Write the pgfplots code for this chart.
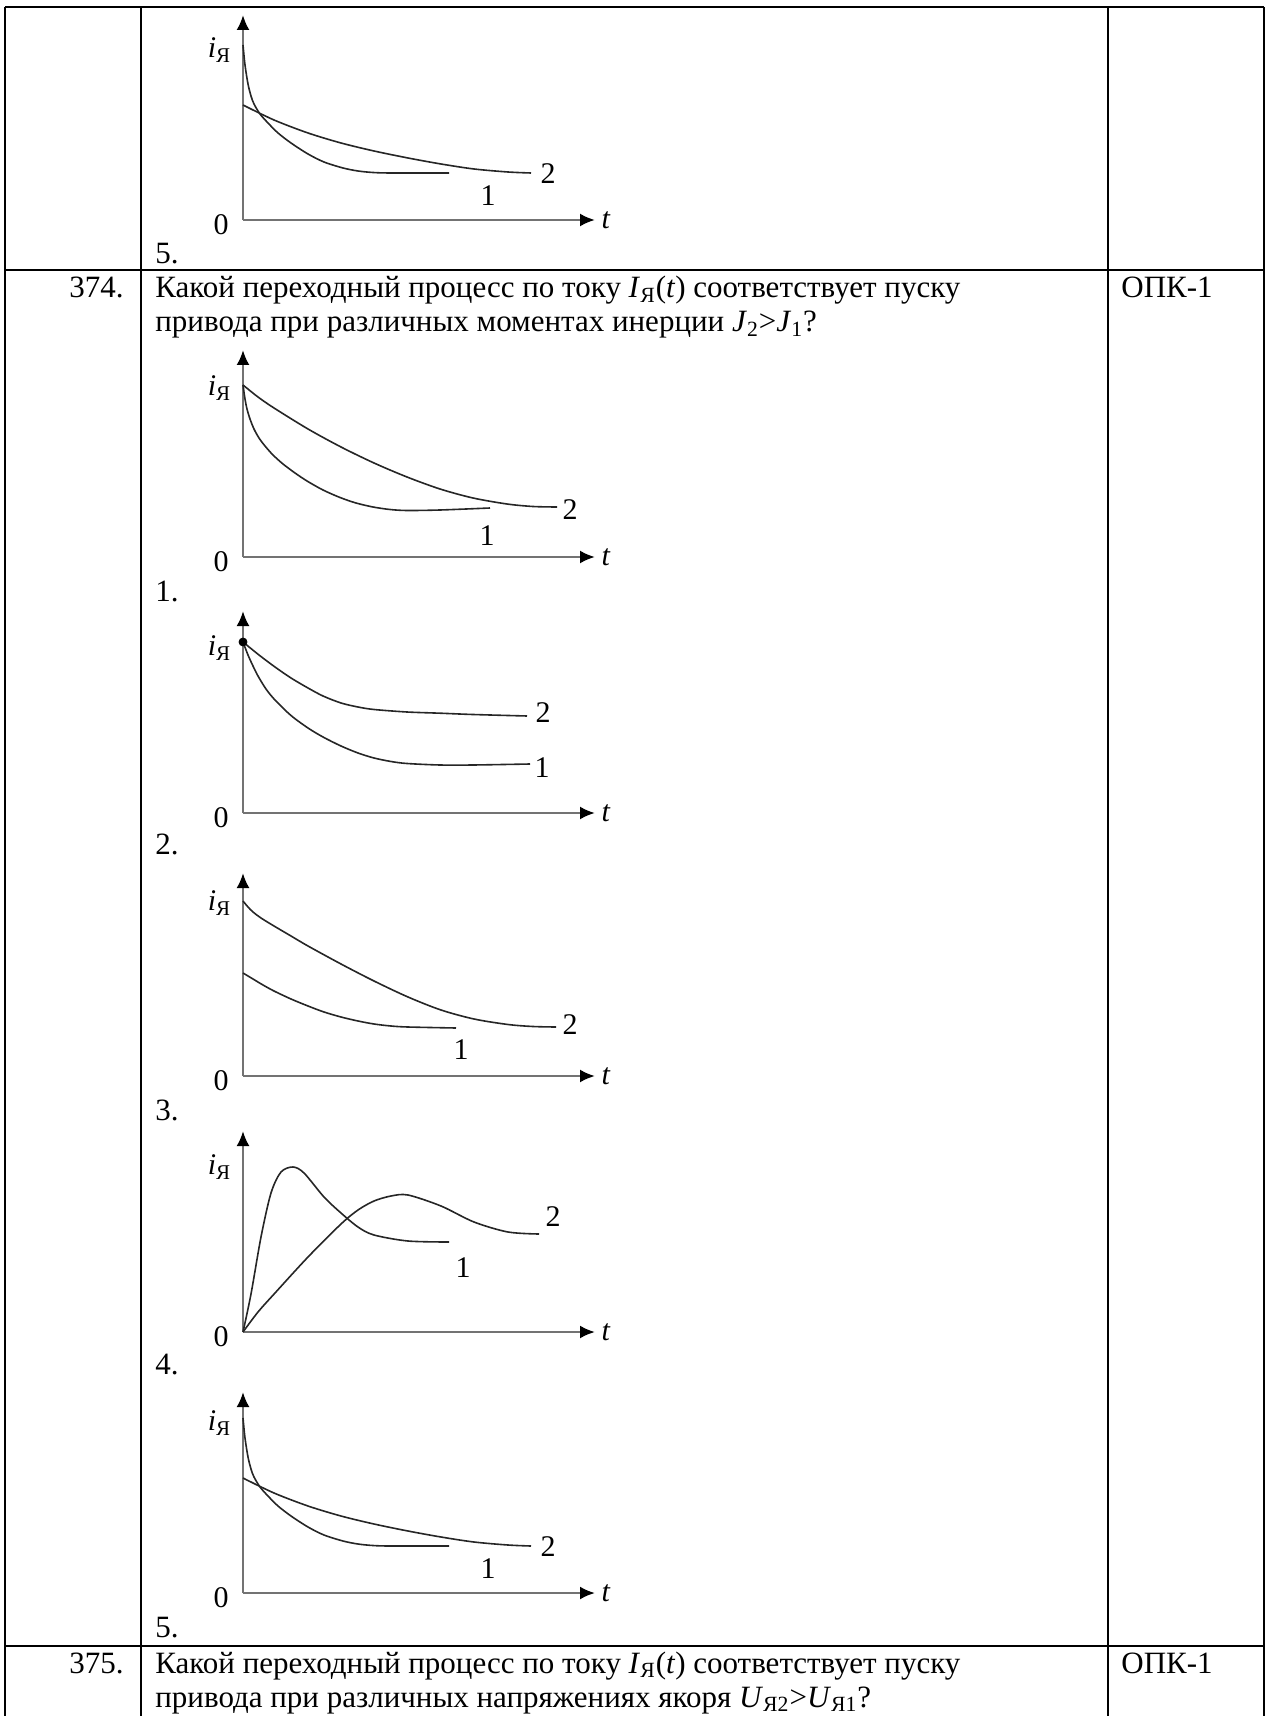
\documentclass[border=0pt]{standalone}
\usepackage{fontspec}
\setmainfont{Liberation Serif}
\usepackage{pgfplots}
\pgfplotsset{compat=1.18}
\usetikzlibrary{arrows.meta}
\pgfplotsset{
  mini/.style={x=0.5pt,y=0.5pt,xmin=0,xmax=352,ymin=0,enlargelimits=false,
    axis lines*=left,
    axis line style={black!55,line width=1.2pt,-{Latex[black,length=7.5pt,width=6.5pt]}},
    ticks=none, clip=false, anchor=origin},
  crv/.style={black!85,line width=0.8pt,smooth,tension=0.5,no markers}
}
\newcommand{\iya}{{\fontsize{15}{15}\selectfont\textit{i}}\raisebox{-2.5pt}{\fontsize{10.5}{10.5}\selectfont Я}}
\tikzset{txt/.style={inner sep=0pt,font=\fontsize{15.5}{18}\selectfont},
  lab/.style={inner sep=0pt,font=\fontsize{15}{16}\selectfont}}
\begin{document}
\begin{tikzpicture}
\begin{scope}[x=0.5pt,y=-0.5pt]
\useasboundingbox (0,0) rectangle (1267,1716);
\draw[line width=1pt] (5,7) -- (1264,7);
\draw[line width=1pt] (5,270) -- (1264,270);
\draw[line width=1pt] (5,1646) -- (1264,1646);
\foreach \xx in {5,141,1108,1264} {\draw[line width=1pt] (\xx,7) -- (\xx,1716);}
% row 374 text
\node[txt,anchor=base east] at (124,298) {374.};
\node[txt,anchor=base west] at (155,298) {Какой переходный процесс по току \textit{I}\textsubscript{Я}(\textit{t}) соответствует пуску};
\node[txt,anchor=base west] at (155,332) {привода при различных моментах инерции \textit{J}\textsubscript{2}>\textit{J}\textsubscript{1}?};
\node[txt,anchor=base west] at (1121,298) {ОПК-1};
% row 375 text
\node[txt,anchor=base east] at (124,1673) {375.};
\node[txt,anchor=base west] at (155,1673) {Какой переходный процесс по току \textit{I}\textsubscript{Я}(\textit{t}) соответствует пуску};
\node[txt,anchor=base west] at (155,1707) {привода при различных напряжениях якоря \textit{U}\textsubscript{Я2}>\textit{U}\textsubscript{Я1}?};
\node[txt,anchor=base west] at (1121,1673) {ОПК-1};
% option numbers
\node[txt,anchor=base west] at (155,264) {5.};
\node[txt,anchor=base west] at (155,601) {1.};
\node[txt,anchor=base west] at (155,854) {2.};
\node[txt,anchor=base west] at (155,1120) {3.};
\node[txt,anchor=base west] at (155,1374) {4.};
\node[txt,anchor=base west] at (155,1637) {5.};
% plot labels: i, 0, t, curve numbers
\foreach \ay/\iy in {220/50,557/388,813/648,1076/903,1332/1167,1593/1423} {
  \node[lab] at (219,\iy) {\iya};
  \node[lab] at (221,\ay+5) {0};
  \node[lab] at (606,\ay) {\textit{t}};
}
\node[lab] at (548,174) {2};  \node[lab] at (488,196) {1};
\node[lab] at (570,510) {2};  \node[lab] at (487,536) {1};
\node[lab] at (543,713) {2};  \node[lab] at (542,768) {1};
\node[lab] at (570,1025) {2}; \node[lab] at (461,1050) {1};
\node[lab] at (553,1217) {2}; \node[lab] at (463,1268) {1};
\node[lab] at (548,1547) {2}; \node[lab] at (488,1569) {1};
\end{scope}
% ---- top plot (continuation, option 5)
\begin{axis}[mini,ymax=205,at={({243*0.5pt},{-220*0.5pt})}]
\addplot[crv] coordinates {(0,175)(2,155)(5,136)(8,124)(11,116)(17,106)(25,97)(35,87)(48,77)(65,66)(81,58)(100,52)(115,49)(130,47.5)(148,47)(206,47)};
\addplot[crv] coordinates {(0,115)(31,100)(65,87)(98,77)(131,69)(165,62)(198,56)(231,51)(265,48)(288,47)};
\end{axis}
% ---- plot 1
\begin{axis}[mini,ymax=207,at={({243*0.5pt},{-557*0.5pt})}]
\addplot[crv] coordinates {(0,172)(2,158)(4,148)(7,138)(11,128)(16,119)(22,111)(30,102)(40,93)(52,84)(64,76)(80,67)(97,59.5)(113,54)(130,50)(147,47.5)(164,46.5)(197,47)(247,49)};
\addplot[crv] coordinates {(0,172)(15,160)(31,149)(65,128)(98,110)(131,94)(164,80)(197,68)(230,59)(264,53)(290,50.5)(314,50)};
\end{axis}
% ---- plot 2
\begin{axis}[mini,ymax=202,at={({243*0.5pt},{-813*0.5pt})}]
\addplot[crv] coordinates {(0,171)(16,158)(32,146)(48,135)(65,125)(80,117)(98,110)(115,106)(131,103.5)(164,101)(197,99.8)(230,98.5)(284,97)};
\addplot[crv] coordinates {(0,171)(5,158)(10,147)(15,137)(23,124)(32,113)(48,97.5)(65,85)(80,76)(98,67)(115,60)(131,55)(148,51.5)(164,49.5)(197,48)(230,48)(287,49)};
\addplot[only marks,mark=*,mark size=2pt,black] coordinates {(0,171)};
\end{axis}
% ---- plot 3
\begin{axis}[mini,ymax=203,at={({243*0.5pt},{-1076*0.5pt})}]
\addplot[crv] coordinates {(0,175)(5,169)(10,164)(18,158)(31,150)(48,140)(65,130)(98,112)(131,95)(165,79)(198,66)(231,57)(265,51.5)(290,49.5)(313,49)};
\addplot[crv] coordinates {(0,103)(10,97)(20,91)(31,85)(48,77)(65,70)(81,64)(98,59)(115,55)(131,52)(148,50)(165,49)(213,48)};
\end{axis}
% ---- plot 4
\begin{axis}[mini,ymax=201,at={({243*0.5pt},{-1332*0.5pt})}]
\addplot[crv] coordinates {(0,0)(8,38)(18,95)(28,139)(38,160)(50,165)(61,159)(81,135)(98,119)(115,105)(131,97)(165,91)(206,90)};
\addplot[crv] coordinates {(0,0)(15,20)(32,39)(65,75)(98,108)(115,122)(131,131)(148,136)(165,137)(198,126)(231,110)(265,100)(296,98)};
\end{axis}
% ---- plot 5
\begin{axis}[mini,ymax=201,at={({243*0.5pt},{-1593*0.5pt})}]
\addplot[crv] coordinates {(0,175)(2,155)(5,136)(8,124)(11,116)(17,106)(25,97)(35,87)(48,77)(65,66)(81,58)(100,52)(115,49)(130,47.5)(148,47)(206,47)};
\addplot[crv] coordinates {(0,115)(31,100)(65,87)(98,77)(131,69)(165,62)(198,56)(231,51)(265,48)(288,47)};
\end{axis}
\end{tikzpicture}
\end{document}
